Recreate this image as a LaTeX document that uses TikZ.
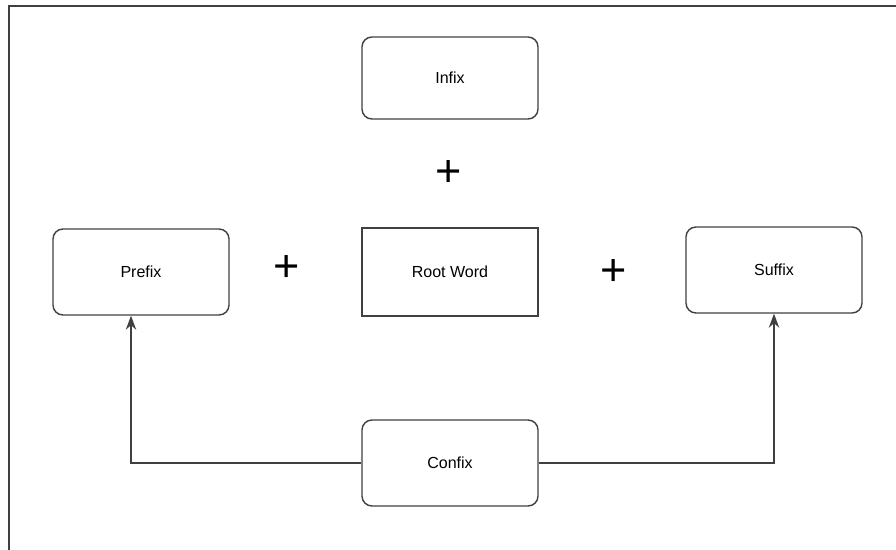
\documentclass[tikz,border=0pt]{standalone}
\usepackage{fontspec}
\setmainfont{Liberation Sans}
\usetikzlibrary{arrows.meta}

\tikzset{
  morph/.style={draw=black!75, line width=1pt, rounded corners=0.25cm, minimum width=4.4cm, minimum height=2.15cm, font=\fontsize{11.4}{13}\selectfont},
  rootbox/.style={morph, rounded corners=0pt},
  plussign/.style={font=\fontsize{32}{32}\selectfont, inner sep=0pt},
  link/.style={draw=black!75, line width=0.9pt, -{Stealth[length=3.5mm,width=2.6mm]}}
}

\begin{document}
\begin{tikzpicture}[x=0.025cm,y=-0.025cm]
            \useasboundingbox (0,0) rectangle (896,550);
            \draw[black!75, line width=1.4pt] (9,550) -- (9,6) -- (896,6);
            \node[morph, minimum height=2.05cm] (infix) at (450,78) {Infix};
            \node[plussign] (plustop) at (449,174) {+};
            \node[morph] (prefix) at (141,272) {Prefix};
            \node[plussign] (plusleft) at (287,269) {+};
            \node[rootbox, minimum height=2.2cm] (root) at (450,272) {Root Word};
            \node[plussign] (plusright) at (614,273) {+};
            \node[morph] (suffix) at (774,270) {Suffix};
            \node[morph] (confix) at (450,463) {Confix};
            \draw[link] (confix.west) -| ([xshift=-0.25cm]prefix.south);
            \draw[link] (confix.east) -| (suffix.south);
        \end{tikzpicture}
\end{document}
